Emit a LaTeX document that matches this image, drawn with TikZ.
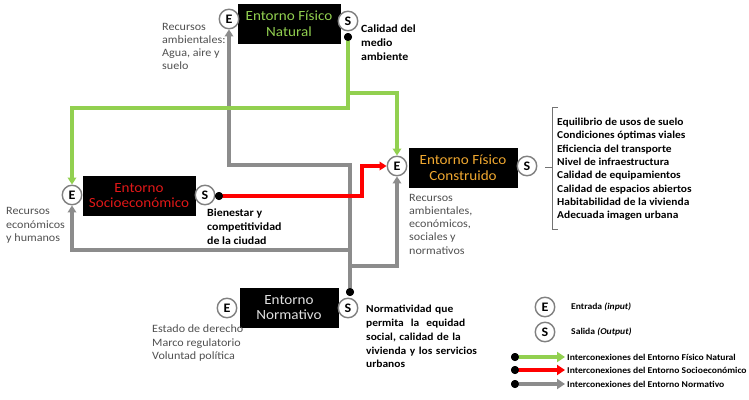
\documentclass[tikz,border=0pt]{standalone}
\usepackage{fontspec}
\setmainfont{Carlito}[FakeStretch=1.08]
\usetikzlibrary{arrows.meta}

\definecolor{natgreen}{HTML}{92D050}
\definecolor{socred}{HTML}{FF0000}
\definecolor{socredtxt}{HTML}{E01818}
\definecolor{normgray}{HTML}{8C8C8C}
\definecolor{congold}{HTML}{F0A830}
\definecolor{normtxt}{HTML}{E0E0E0}
\definecolor{sidegray}{HTML}{505050}

\tikzset{
  envbox/.style={fill=black, draw=black, align=center, inner sep=0pt,
    minimum height=39pt, font=\fontsize{14}{15.5}\selectfont},
  io/.style={circle, fill=white, draw=black!50, line width=1.4pt,
    minimum size=19.5pt, inner sep=0pt, font=\bfseries\fontsize{13}{13}\selectfont},
  jdot/.style={circle, fill=black, inner sep=0pt, minimum size=8pt},
  link/.style={line width=3.2pt, -{Triangle[length=7pt,width=8.5pt]}},
  gline/.style={link, draw=natgreen},
  rline/.style={link, draw=socred},
  kline/.style={link, draw=normgray},
  intext/.style={anchor=north west, align=left, text=sidegray, inner sep=0pt,
    font=\fontsize{11.2}{13.2}\selectfont},
  outtext/.style={anchor=north west, align=left, text=black, inner sep=0pt,
    font=\bfseries\fontsize{11}{13.6}\selectfont},
  legtext/.style={anchor=west, inner sep=0pt, font=\bfseries\fontsize{8.9}{10}\selectfont},
  legline/.style={line width=4pt, -{Triangle[length=8pt,width=10pt]}},
}

\begin{document}
\begin{tikzpicture}[x=1pt, y=-1pt]
\useasboundingbox (0,0) rectangle (749,399);

% environment boxes
\node[envbox, minimum width=102pt, text=natgreen] (nat) at (289,23.5) {Entorno Físico\\Natural};
\node[envbox, minimum width=112pt, text=socredtxt] (soc) at (139,195.5) {Entorno\\Socioeconómico};
\node[envbox, minimum width=108pt, text=congold] (con) at (463,167.5) {Entorno Físico\\Construido};
\node[envbox, minimum width=98pt, text=normtxt] (nor) at (289,307.5) {Entorno\\Normativo};

% input / output markers
\node[io] (natE) at (229,19) {E};
\node[io] (natS) at (348,21) {S};
\node[io] (socE) at (72,195) {E};
\node[io] (socS) at (205,195) {S};
\node[io] (conE) at (397,166) {E};
\node[io] (conS) at (527,166) {S};
\node[io] (norE) at (227,308) {E};
\node[io] (norS) at (348,308) {S};

% output junctions
\node[jdot] (natD) at (348,37) {};
\node[jdot] (socD) at (219,196) {};
\node[jdot] (norD) at (350,292) {};

% bend points
\coordinate (g1) at (348,93);
\coordinate (g2) at (348,108);
\coordinate (r1) at (362,196);
\coordinate (k0) at (350,165);
\coordinate (k1) at (350,250);
\coordinate (k2) at (350,266);

% normative interconnections
\draw[kline] (norD.center) -- (k0) -| (natE.south);
\draw[kline] (k1) -| (socE.south);
\draw[kline] (k2) -| (conE.south);

% natural interconnections
\draw[gline] (natD.center) -- (g2) -| (socE.north);
\draw[gline] (g1) -| (conE.north);

% socioeconomic interconnection
\draw[rline] (socD.center) -- (r1) |- (conE.west);

% junction dots on top of the lines
\node[jdot] at (natD) {};
\node[jdot] at (socD) {};
\node[jdot] at (norD) {};

% input and output texts
\node[intext] (natIn) at (162,23) {Recursos\\ambientales:\\Agua, aire y\\suelo};
\node[outtext] (natOut) at (361,25) {Calidad del\\medio\\ambiente};
\node[intext, font=\fontsize{11.2}{13.8}\selectfont] (socIn) at (6,207) {Recursos\\económicos\\y humanos};
\node[outtext, font=\bfseries\fontsize{11}{14}\selectfont] (socOut) at (207,209) {Bienestar y\\competitividad\\de la ciudad};
\node[intext] (conIn) at (409,194) {Recursos\\ambientales,\\económicos,\\sociales y\\normativos};
\node[intext] (norIn) at (152,325) {Estado de derecho\\Marco regulatorio\\Voluntad política};
\node[outtext, font=\bfseries\fontsize{10.6}{13.8}\selectfont, text width=113pt] (norOut) at (366,305)
  {Normatividad que\\
   \makebox[\linewidth][s]{permita\ \ la\ \ equidad}\\
   \makebox[\linewidth][s]{social, calidad de la}\\
   \makebox[\linewidth][s]{vivienda y los servicios}\\
   urbanos};

% list of built-environment outputs
\draw[black!55, line width=0.6pt] (558,107) -- (552,107) -- (552,229) -- (558,229);
\draw[black!55, line width=0.6pt] (545,167) -- (552,167);
\node[outtext, font=\bfseries\fontsize{10.6}{13.3}\selectfont] (conOut) at (557,118)
  {Equilibrio de usos de suelo\\Condiciones óptimas viales\\Eficiencia del transporte\\Nivel de infraestructura\\Calidad de equipamientos\\Calidad de espacios abiertos\\Habitabilidad de la vivienda\\Adecuada imagen urbana};

% legend
\node[io] (legE) at (545,307) {E};
\node[io] (legS) at (545,332) {S};
\node[legtext] (legEt) at (571,307) {Entrada \textit{(input)}};
\node[legtext] (legSt) at (571,332) {Salida \textit{(Output)}};

\node[jdot] (lgD) at (515,357) {};
\node[jdot] (lrD) at (515,370) {};
\node[jdot] (lkD) at (515,384) {};
\coordinate (lgE) at (565,357);
\coordinate (lrE) at (565,370);
\coordinate (lkE) at (565,384);
\draw[legline, draw=natgreen] (lgD.center) -- (lgE);
\draw[legline, draw=socred] (lrD.center) -- (lrE);
\draw[legline, draw=normgray] (lkD.center) -- (lkE);
\node[jdot] at (lgD) {};
\node[jdot] at (lrD) {};
\node[jdot] at (lkD) {};
\node[legtext] (lgT) at (567,357) {Interconexiones del Entorno Físico Natural};
\node[legtext] (lrT) at (567,370) {Interconexiones del Entorno Socioeconómico};
\node[legtext] (lkT) at (567,384) {Interconexiones del Entorno Normativo};
\end{tikzpicture}
\end{document}
